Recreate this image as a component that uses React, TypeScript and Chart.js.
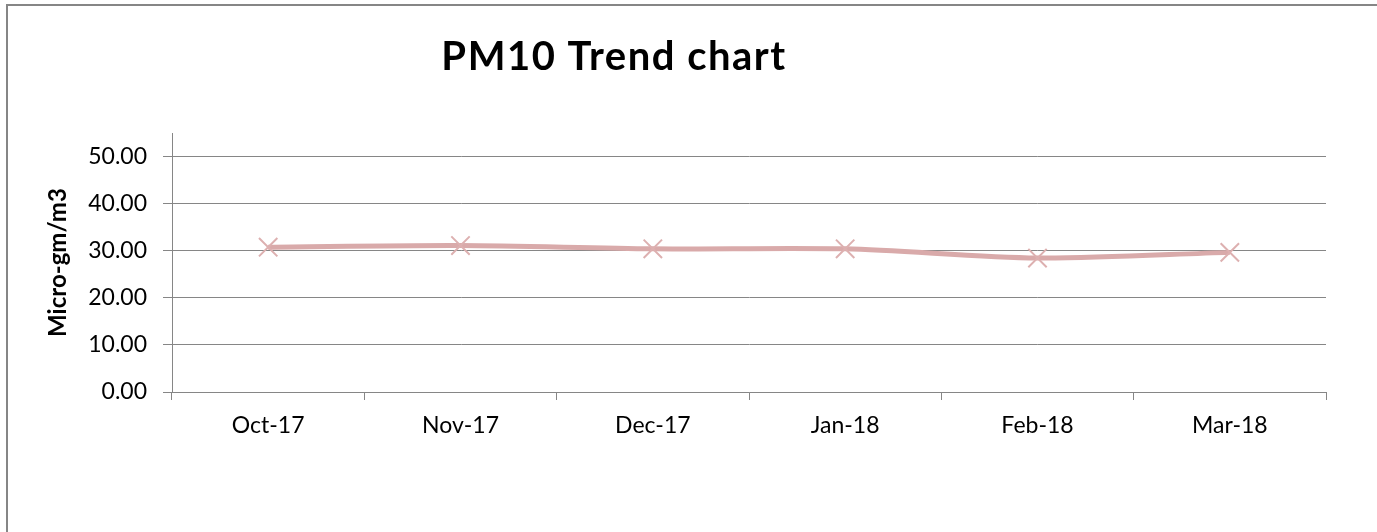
import React, { useEffect, useRef } from "react";
import { Chart, registerables } from "chart.js";

Chart.register(...registerables);

const TITLE = "PM10 Trend chart";
const Y_TITLE = "Micro-gm/m3";
const categories = ["Oct-17", "Nov-17", "Dec-17", "Jan-18", "Feb-18", "Mar-18"];
const pm10 = [30.75, 31.1, 30.4, 30.4, 28.45, 29.65];
const yTicks = [0, 10, 20, 30, 40, 50];

const AXIS_GRAY = "#868686";
const LINE_COLOR = "#D9AAAA";
const FONT = "Lato";

export default function App() {
  const ref = useRef<HTMLCanvasElement>(null);

  useEffect(() => {
    if (!ref.current) return;

    const framePlugin = {
      id: "frame",
      beforeDraw(chart: any) {
        const ctx = chart.ctx;
        ctx.save();
        ctx.fillStyle = "#ffffff";
        ctx.fillRect(0, 0, chart.width, chart.height);
        ctx.strokeStyle = AXIS_GRAY;
        ctx.lineWidth = 2;
        ctx.beginPath();
        ctx.moveTo(7, chart.height);
        ctx.lineTo(7, 5);
        ctx.lineTo(chart.width, 5);
        ctx.stroke();
        ctx.restore();
      },
    };

    const titlePlugin = {
      id: "customTitle",
      afterDraw(chart: any) {
        const ctx = chart.ctx;
        ctx.save();
        ctx.fillStyle = "#000000";
        ctx.font = `bold 40px ${FONT}`;
        try {
          (ctx as any).letterSpacing = "1.5px";
        } catch (e) {}
        ctx.textAlign = "center";
        ctx.textBaseline = "alphabetic";
        ctx.fillText(TITLE, 614, 70);
        ctx.restore();
      },
    };

    const chart = new Chart(ref.current, {
      type: "line",
      data: {
        labels: categories,
        datasets: [
          {
            data: pm10,
            borderColor: LINE_COLOR,
            borderWidth: 5,
            tension: 0.3,
            pointStyle: "crossRot",
            pointRadius: 13,
            pointBorderWidth: 2,
            pointBorderColor: "#DDB0B0",
            pointBackgroundColor: "transparent",
          },
        ],
      },
      options: {
        responsive: false,
        animation: false,
        layout: { padding: { left: 0, top: 133, right: 51, bottom: 0 } },
        plugins: {
          legend: { display: false },
          tooltip: { enabled: false },
          title: { display: false },
        },
        scales: {
          x: {
            offset: true,
            grid: {
              offset: true,
              drawOnChartArea: false,
              drawTicks: true,
              tickLength: 8,
              color: AXIS_GRAY,
              lineWidth: 1,
            },
            border: { color: AXIS_GRAY, width: 1 },
            ticks: {
              color: "#000000",
              font: { family: FONT, size: 23 },
              padding: 12,
              maxRotation: 0,
              autoSkip: false,
            },
            afterFit(s: any) {
              s.height = 140;
            },
          },
          y: {
            min: 0,
            max: 55,
            afterBuildTicks(s: any) {
              s.ticks = yTicks.map((v) => ({ value: v }));
            },
            grid: { color: AXIS_GRAY, lineWidth: 1, tickLength: 9 },
            border: { color: AXIS_GRAY, width: 1 },
            ticks: {
              color: "#000000",
              font: { family: FONT, size: 23 },
              padding: 16,
              callback: (v: any) => Number(v).toFixed(2),
            },
            title: {
              display: true,
              text: Y_TITLE,
              color: "#000000",
              font: { family: FONT, size: 24, weight: "bold" },
              padding: { top: 44, bottom: 0 },
            },
            afterFit(s: any) {
              s.width = 172;
            },
          },
        },
      },
      plugins: [framePlugin, titlePlugin],
    });

    return () => chart.destroy();
  }, []);

  return (
    <div style={{ position: "absolute", left: 0, top: 0, width: 1377, height: 532 }}>
      <canvas ref={ref} width={1377} height={532} style={{ display: "block" }} />
    </div>
  );
}
